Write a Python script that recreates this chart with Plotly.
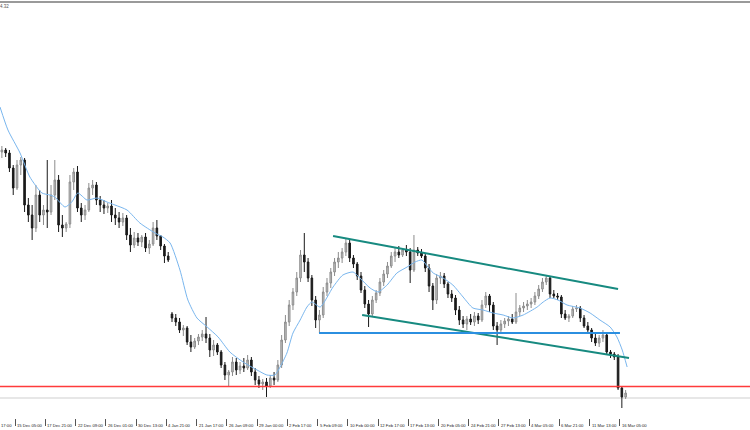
import plotly.graph_objects as go

# ---------------- data (H4 bars, price values) ----------------
opens = [
    1.1848, 1.1850, 1.1847, 1.1832, 1.1812, 1.1835, 1.1840, 1.1795, 1.1785, 1.1772,
    1.1805, 1.1785, 1.1790, 1.1788, 1.1805, 1.1820, 1.1775, 1.1772, 1.1776, 1.1818,
    1.1828, 1.1792, 1.1785, 1.1790, 1.1812, 1.1815, 1.1800, 1.1795, 1.1792, 1.1794,
    1.1785, 1.1782, 1.1778, 1.1782, 1.1765, 1.1755, 1.1762, 1.1758, 1.1763, 1.1752,
    1.1756, 1.1772, 1.1764, 1.1754, 1.1744,
    1.1686, 1.1682, 1.1678, 1.1670, 1.1672, 1.1658, 1.1653, 1.1659, 1.1663, 1.1666,
    1.1662, 1.1650, 1.1655, 1.1648, 1.1635, 1.1625, 1.1628, 1.1638, 1.1630, 1.1634,
    1.1632, 1.1640, 1.1628, 1.1620, 1.1616, 1.1618, 1.1614, 1.1622, 1.1620, 1.1635,
    1.1660, 1.1678, 1.1695, 1.1708, 1.1722, 1.1745, 1.1738, 1.1722, 1.1700, 1.1680,
    1.1685, 1.1708, 1.1717, 1.1728, 1.1738, 1.1742, 1.1748, 1.1757, 1.1742, 1.1736,
    1.1724, 1.1710, 1.1696, 1.1686, 1.1700, 1.1707, 1.1718, 1.1726, 1.1734, 1.1744,
    1.1748, 1.1745, 1.1750, 1.1748, 1.1730, 1.1750, 1.1747, 1.1744, 1.1732, 1.1714,
    1.1700, 1.1722, 1.1724, 1.1716, 1.1706, 1.1702, 1.1690, 1.1680, 1.1676, 1.1681,
    1.1678, 1.1684, 1.1680, 1.1695, 1.1704, 1.1695, 1.1674, 1.1670, 1.1676, 1.1679,
    1.1681, 1.1678, 1.1688, 1.1692, 1.1694, 1.1696, 1.1698, 1.1704, 1.1711, 1.1718,
    1.1722, 1.1706, 1.1704, 1.1703, 1.1686, 1.1682, 1.1684, 1.1691, 1.1692, 1.1682,
    1.1674, 1.1670, 1.1662, 1.1657, 1.1662, 1.1665, 1.1648, 1.1646, 1.1643, 1.1612,
    1.1603,
]
highs = [
    1.1854, 1.1852, 1.1850, 1.1835, 1.1840, 1.1843, 1.1842, 1.1802, 1.1795, 1.1815,
    1.1810, 1.1795, 1.1840, 1.1815, 1.1840, 1.1825, 1.1785, 1.1778, 1.1825, 1.1832,
    1.1834, 1.1797, 1.1795, 1.1817, 1.1820, 1.1818, 1.1804, 1.1800, 1.1797, 1.1800,
    1.1792, 1.1788, 1.1787, 1.1785, 1.1772, 1.1768, 1.1767, 1.1765, 1.1767, 1.1760,
    1.1778, 1.1780, 1.1765, 1.1756, 1.1748,
    1.1688, 1.1686, 1.1682, 1.1675, 1.1674, 1.1665, 1.1662, 1.1666, 1.1670, 1.1683,
    1.1666, 1.1660, 1.1657, 1.1650, 1.1638, 1.1630, 1.1643, 1.1642, 1.1638, 1.1642,
    1.1645, 1.1643, 1.1632, 1.1624, 1.1621, 1.1622, 1.1625, 1.1628, 1.1640, 1.1665,
    1.1685, 1.1700, 1.1712, 1.1728, 1.1750, 1.1767, 1.1742, 1.1725, 1.1704, 1.1690,
    1.1713, 1.1722, 1.1732, 1.1742, 1.1748, 1.1752, 1.1762, 1.1760, 1.1745, 1.1738,
    1.1728, 1.1714, 1.1700, 1.1704, 1.1710, 1.1722, 1.1730, 1.1738, 1.1748, 1.1752,
    1.1754, 1.1752, 1.1755, 1.1752, 1.1765, 1.1753, 1.1751, 1.1746, 1.1736, 1.1717,
    1.1726, 1.1728, 1.1727, 1.1718, 1.1710, 1.1705, 1.1694, 1.1684, 1.1684, 1.1686,
    1.1688, 1.1687, 1.1700, 1.1708, 1.1706, 1.1698, 1.1678, 1.1680, 1.1682, 1.1684,
    1.1686, 1.1707, 1.1695, 1.1698, 1.1700, 1.1702, 1.1708, 1.1715, 1.1722, 1.1725,
    1.1724, 1.1710, 1.1707, 1.1705, 1.1690, 1.1686, 1.1694, 1.1695, 1.1694, 1.1685,
    1.1678, 1.1672, 1.1667, 1.1665, 1.1670, 1.1668, 1.1650, 1.1648, 1.1646, 1.1614,
    1.1610,
]
lows = [
    1.1842, 1.1843, 1.1828, 1.1805, 1.1810, 1.1825, 1.1788, 1.1778, 1.1760, 1.1768,
    1.1778, 1.1775, 1.1772, 1.1785, 1.1800, 1.1768, 1.1763, 1.1768, 1.1772, 1.1810,
    1.1788, 1.1778, 1.1780, 1.1788, 1.1805, 1.1795, 1.1788, 1.1786, 1.1787, 1.1778,
    1.1775, 1.1772, 1.1774, 1.1760, 1.1748, 1.1752, 1.1754, 1.1753, 1.1748, 1.1746,
    1.1754, 1.1760, 1.1750, 1.1737, 1.1738,
    1.1678, 1.1674, 1.1667, 1.1664, 1.1655, 1.1648, 1.1651, 1.1655, 1.1659, 1.1657,
    1.1643, 1.1644, 1.1645, 1.1632, 1.1620, 1.1613, 1.1624, 1.1625, 1.1626, 1.1628,
    1.1630, 1.1624, 1.1615, 1.1612, 1.1610, 1.1603, 1.1612, 1.1615, 1.1618, 1.1632,
    1.1657, 1.1674, 1.1690, 1.1704, 1.1718, 1.1728, 1.1718, 1.1694, 1.1672, 1.1667,
    1.1682, 1.1704, 1.1712, 1.1724, 1.1732, 1.1737, 1.1744, 1.1738, 1.1732, 1.1720,
    1.1707, 1.1692, 1.1673, 1.1684, 1.1697, 1.1704, 1.1714, 1.1722, 1.1732, 1.1738,
    1.1742, 1.1743, 1.1744, 1.1717, 1.1728, 1.1744, 1.1742, 1.1728, 1.1708, 1.1690,
    1.1696, 1.1716, 1.1712, 1.1702, 1.1698, 1.1685, 1.1675, 1.1672, 1.1670, 1.1675,
    1.1674, 1.1676, 1.1678, 1.1692, 1.1688, 1.1670, 1.1655, 1.1667, 1.1672, 1.1674,
    1.1676, 1.1676, 1.1684, 1.1688, 1.1690, 1.1692, 1.1695, 1.1701, 1.1708, 1.1715,
    1.1702, 1.1702, 1.1700, 1.1682, 1.1680, 1.1678, 1.1682, 1.1688, 1.1678, 1.1672,
    1.1666, 1.1658, 1.1654, 1.1653, 1.1658, 1.1645, 1.1642, 1.1640, 1.1610, 1.1592,
    1.1601,
]
closes = [
    1.1850, 1.1847, 1.1832, 1.1812, 1.1835, 1.1840, 1.1795, 1.1785, 1.1772, 1.1805,
    1.1785, 1.1790, 1.1788, 1.1805, 1.1820, 1.1775, 1.1772, 1.1776, 1.1818, 1.1828,
    1.1792, 1.1785, 1.1790, 1.1812, 1.1815, 1.1800, 1.1795, 1.1792, 1.1794, 1.1785,
    1.1782, 1.1778, 1.1782, 1.1765, 1.1755, 1.1762, 1.1758, 1.1763, 1.1752, 1.1756,
    1.1772, 1.1764, 1.1754, 1.1744, 1.1740,
    1.1682, 1.1678, 1.1670, 1.1672, 1.1658, 1.1653, 1.1659, 1.1663, 1.1666, 1.1662,
    1.1650, 1.1655, 1.1648, 1.1635, 1.1625, 1.1628, 1.1638, 1.1630, 1.1634, 1.1632,
    1.1640, 1.1628, 1.1620, 1.1616, 1.1618, 1.1614, 1.1622, 1.1620, 1.1635, 1.1660,
    1.1678, 1.1695, 1.1708, 1.1722, 1.1745, 1.1738, 1.1722, 1.1700, 1.1680, 1.1685,
    1.1708, 1.1717, 1.1728, 1.1738, 1.1742, 1.1748, 1.1757, 1.1742, 1.1736, 1.1724,
    1.1710, 1.1696, 1.1686, 1.1700, 1.1707, 1.1718, 1.1726, 1.1734, 1.1744, 1.1748,
    1.1745, 1.1750, 1.1748, 1.1730, 1.1750, 1.1747, 1.1744, 1.1732, 1.1714, 1.1700,
    1.1722, 1.1724, 1.1716, 1.1706, 1.1702, 1.1690, 1.1680, 1.1676, 1.1681, 1.1678,
    1.1684, 1.1680, 1.1695, 1.1704, 1.1695, 1.1674, 1.1670, 1.1676, 1.1679, 1.1681,
    1.1678, 1.1688, 1.1692, 1.1694, 1.1696, 1.1698, 1.1704, 1.1711, 1.1718, 1.1722,
    1.1706, 1.1704, 1.1703, 1.1686, 1.1682, 1.1684, 1.1691, 1.1692, 1.1682, 1.1674,
    1.1670, 1.1662, 1.1657, 1.1662, 1.1665, 1.1648, 1.1646, 1.1643, 1.1612, 1.1603,
    1.1607,
]
bar_index = list(range(len(closes)))

# moving average (at its turning points)
ma_x = [-0.5, 1.6, 4.8, 7.4, 10.6, 12.7, 14.0, 16.7, 18.5, 20.1, 22.5, 25.2, 27.8, 29.9,
        33.1, 36.5, 40.5, 42.6, 44.5, 47.1, 49.2, 51.6, 54.3, 57.2, 60.3, 63.8, 67.5,
        70.1, 72.2, 73.6, 75.4, 77.0, 78.9, 80.7, 82.0, 84.2, 87.6, 90.2, 92.9, 94.7,
        97.4, 99.5, 101.9, 104.5, 107.2, 109.3, 111.1, 112.7, 114.1, 116.7, 119.3,
        122.0, 124.6, 127.3, 129.9, 132.6, 135.2, 137.9, 141.6, 143.2, 145.0, 147.1,
        149.5, 152.9, 155.6, 158.2, 160.9, 162.7, 164.1, 165.4]
ma_y = [1.1893, 1.1870, 1.1847, 1.1823, 1.1807, 1.1805, 1.1803, 1.1793, 1.1798, 1.1807,
        1.1800, 1.1802, 1.1798, 1.1795, 1.1790, 1.1777, 1.1767, 1.1763, 1.1757, 1.1730,
        1.1700, 1.1682, 1.1673, 1.1663, 1.1648, 1.1638, 1.1630, 1.1625, 1.1625, 1.1633,
        1.1647, 1.1667, 1.1680, 1.1693, 1.1698, 1.1693, 1.1713, 1.1725, 1.1728, 1.1722,
        1.1712, 1.1708, 1.1715, 1.1727, 1.1733, 1.1738, 1.1740, 1.1733, 1.1727, 1.1722,
        1.1715, 1.1703, 1.1692, 1.1690, 1.1687, 1.1685, 1.1682, 1.1685, 1.1693, 1.1698,
        1.1702, 1.1700, 1.1695, 1.1692, 1.1687, 1.1680, 1.1673, 1.1663, 1.1650, 1.1633]

# drawn objects: channel, horizontal lines
upper_channel_x = [87.6, 163.0]
upper_channel_y = [1.1764, 1.1711]
lower_channel_x = [95.3, 165.9]
lower_channel_y = [1.1685, 1.1642]
blue_level_x = [83.9, 163.5]
blue_level_y = [1.1667, 1.1667]
red_level = 1.16135
bid_level = 1.1602

tick_pos = [3.5 + 8 * k for k in range(21)]
tick_labels = ["15 Dec 05:00", "17 Dec 21:00", "22 Dec 09:00", "26 Dec 01:00",
               "30 Dec 13:00", "4 Jan 21:00", "21 Jan 17:00", "26 Jan 09:00",
               "29 Jan 00:00", "2 Feb 17:00", "5 Feb 09:00", "10 Feb 00:00",
               "12 Feb 17:00", "17 Feb 13:00", "20 Feb 05:00", "24 Feb 21:00",
               "27 Feb 13:00", "4 Mar 05:00", "6 Mar 21:00", "11 Mar 13:00",
               "16 Mar 05:00"]

# ---------------- figure ----------------
fig = go.Figure()

fig.add_trace(go.Candlestick(
    x=bar_index, open=opens, high=highs, low=lows, close=closes,
    increasing=dict(line=dict(color="#8c8c8c", width=1), fillcolor="#c4c4c4"),
    decreasing=dict(line=dict(color="#1a1a1a", width=1), fillcolor="#1a1a1a"),
    whiskerwidth=0, showlegend=False, hoverinfo="skip",
))

fig.add_trace(go.Scatter(x=ma_x, y=ma_y, mode="lines",
                         line=dict(color="#79b6ee", width=1, shape="spline", smoothing=0.6),
                         showlegend=False, hoverinfo="skip"))

fig.add_trace(go.Scatter(x=upper_channel_x, y=upper_channel_y, mode="lines",
                         line=dict(color="#178a80", width=2), showlegend=False, hoverinfo="skip"))
fig.add_trace(go.Scatter(x=lower_channel_x, y=lower_channel_y, mode="lines",
                         line=dict(color="#178a80", width=2), showlegend=False, hoverinfo="skip"))
fig.add_trace(go.Scatter(x=blue_level_x, y=blue_level_y, mode="lines",
                         line=dict(color="#2b8fe0", width=2), showlegend=False, hoverinfo="skip"))

fig.add_shape(type="line", xref="paper", x0=0, x1=1, yref="y", y0=bid_level, y1=bid_level,
              line=dict(color="#cfcfcf", width=1), layer="below")
fig.add_shape(type="line", xref="paper", x0=0, x1=1, yref="y", y0=red_level, y1=red_level,
              line=dict(color="#ff3b3b", width=1.5))

# window frame line at the top
fig.add_shape(type="line", xref="paper", x0=0, x1=1, yref="paper", y0=1.0146, y1=1.0146,
              line=dict(color="#9a9a9a", width=2))

label_font = dict(family="Liberation Sans, Arial, sans-serif", size=4.2, color="#222222")
for pos, txt in zip(tick_pos, tick_labels):
    fig.add_annotation(x=pos, y=0, xref="x", yref="paper", text=txt, showarrow=False,
                       xanchor="left", yanchor="top", xshift=0, yshift=-3, font=label_font)
fig.add_annotation(x=0, y=0, xref="paper", yref="paper", text="17:00", showarrow=False,
                   xanchor="left", yanchor="top", xshift=-1, yshift=-3, font=label_font)
fig.add_annotation(x=0, y=1, xref="paper", yref="paper", text="4.32", showarrow=False,
                   xanchor="left", yanchor="bottom", xshift=-2, yshift=-3,
                   font=dict(family="Liberation Sans, Arial, sans-serif", size=4.5, color="#555555"))

fig.update_layout(
    width=750, height=430,
    margin=dict(l=0, r=0, t=8, b=12),
    paper_bgcolor="white", plot_bgcolor="white",
    boxgap=0.4,
    xaxis=dict(range=[-0.5, 197.9], rangeslider=dict(visible=False), showgrid=False,
               zeroline=False, showline=False, tickvals=tick_pos, ticktext=[""] * len(tick_pos),
               ticks="outside", ticklen=7, tickwidth=1, tickcolor="#555555",
               showticklabels=False),
    yaxis=dict(range=[1.1582, 1.1992], showgrid=False, zeroline=False, showline=False,
               showticklabels=False, ticks=""),
)

fig.write_html("out.html", config={"displayModeBar": False},
               post_script="document.body.style.margin='0';")
